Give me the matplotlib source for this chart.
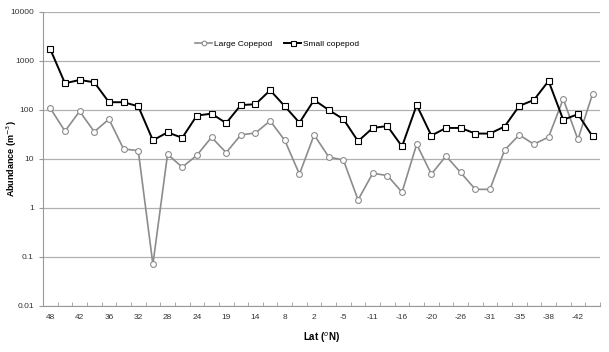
import matplotlib
matplotlib.use("Agg")
import matplotlib.pyplot as plt
from matplotlib.ticker import FixedLocator, NullLocator, FixedFormatter

lat_labels = ["48", "42", "36", "32", "28", "24", "19", "14", "8", "2",
              "-5", "-11", "-16", "-20", "-26", "-31", "-35", "-38", "-42"]

small_copepod = [1730, 350, 410, 367, 144, 144, 119, 24, 35, 27,
                 77, 84, 54, 126, 131, 253, 119, 55, 160, 100,
                 65, 23, 43, 47, 18, 126, 30, 43, 43, 33,
                 33, 46, 121, 160, 390, 63, 82, 29]

large_copepod = [108, 37, 94, 36, 65, 16, 14.8, 0.071, 12.5, 6.8,
                 11.9, 27.7, 13.5, 31, 34, 60, 24, 4.9, 31, 11,
                 9.5, 1.46, 5.1, 4.6, 2.1, 20, 4.9, 11.5, 5.3, 2.4,
                 2.4, 15.2, 31, 20, 28, 168, 25, 212]

y_ticks = [0.01, 0.1, 1, 10, 100, 1000, 10000]
y_tick_labels = ["0.01", "0.1", "1", "10", "100", "1000", "10000"]

plt.rcParams['font.family'] = ['Liberation Sans Narrow', 'Liberation Sans', 'DejaVu Sans']

fig = plt.figure(figsize=(6.09, 3.52), dpi=100)
ax = fig.add_axes([0.0706, 0.1307, 0.9144, 0.8353])

x = list(range(len(small_copepod)))
ax.plot(x, large_copepod, color='#8c8c8c', lw=1.2, marker='o', ms=4.2,
        mfc='white', mec='#8c8c8c', mew=0.8, label='Large Copepod', zorder=3)
ax.plot(x, small_copepod, color='black', lw=1.4, marker='s', ms=4.5,
        mfc='white', mec='black', mew=0.8, label='Small copepod', zorder=4)

ax.set_yscale('log')
ax.set_ylim(0.01, 10000)
ax.set_xlim(-0.5, len(x) - 0.5)

ax.yaxis.set_major_locator(FixedLocator(y_ticks))
ax.yaxis.set_major_formatter(FixedFormatter(y_tick_labels))
ax.yaxis.set_minor_locator(NullLocator())
ax.grid(axis='y', color='#b0b0b0', lw=0.9)
ax.set_axisbelow(True)

ax.set_xticks([i + 0.5 for i in range(-1, len(x))], minor=True)
ax.set_xticks(list(range(0, len(x), 2)))
ax.set_xticklabels(lat_labels)
ax.tick_params(axis='x', which='major', length=0, labelsize=6, pad=6, colors='#333333')
ax.tick_params(axis='x', which='minor', length=3, color='#999999', direction='in')
ax.tick_params(axis='y', which='major', length=3, labelsize=6, colors='#333333', color='#999999')

for s in ['top', 'right']:
    ax.spines[s].set_visible(False)
for s in ['left', 'bottom']:
    ax.spines[s].set_color('#999999')
    ax.spines[s].set_linewidth(0.8)

ax.set_ylabel('Abundance (m$^{-3}$)', fontsize=6.5, fontweight='bold')
ax.yaxis.set_label_coords(-0.043, 0.5)
ax.set_xlabel('Lat ($^{o}$N)', fontsize=7, fontweight='bold')
ax.xaxis.set_label_coords(0.5, -0.085)

ax.legend(loc='upper left', bbox_to_anchor=(0.26, 0.93), ncol=2, frameon=False,
          fontsize=6, handlelength=2.0, columnspacing=1.5, handletextpad=0.2,
          markerscale=0.8)

fig.savefig('out.png', dpi=100)
